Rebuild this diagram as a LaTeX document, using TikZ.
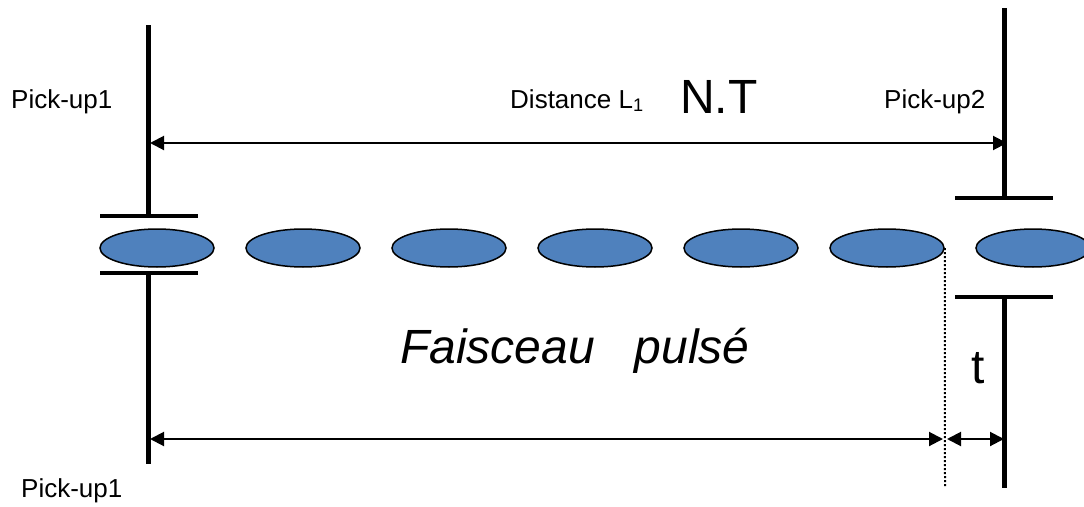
\documentclass[tikz,border=0pt]{standalone}
\usepackage{fontspec}
\setmainfont{Liberation Sans}
\usetikzlibrary{arrows.meta, positioning, shapes.geometric}
\definecolor{bunchcolor}{RGB}{79, 129, 189}

\begin{document}
\begin{tikzpicture}[x=1pt, y=-1pt,
    bunch/.style={ellipse, draw=black, line width=1.5pt, fill=bunchcolor, minimum width=114pt, minimum height=38pt, inner sep=0pt},
    electrode/.style={line width=5pt},
    plate/.style={line width=4pt},
    dim/.style={line width=2pt, {Triangle[length=14pt, width=14pt]}-{Triangle[length=14pt, width=14pt]}},
    guide/.style={line width=2pt, dash pattern=on 2pt off 2pt},
    lbl/.style={font=\fontsize{26}{30}\selectfont, inner sep=0pt, anchor=base west},
    big/.style={font=\fontsize{48}{56}\selectfont, inner sep=0pt, anchor=base west}]

\useasboundingbox (0,0) rectangle (1084,506);
\clip (0,0) rectangle (1084,506);

% beam bunches
\foreach \i in {1,...,7}
    \node[bunch] (b\i) at ({11+146*\i}, 248) {};

% pick-up 1
\coordinate (pa top) at (148,25);
\coordinate (pa up) at (148,216);
\coordinate (pa low) at (148,273);
\coordinate (pa bot) at (148,464);
\draw[electrode] (pa top) -- (pa up);
\draw[electrode] (pa low) -- (pa bot);
\draw[plate] ([xshift=-48pt]pa up) -- ([xshift=50pt]pa up);
\draw[plate] ([xshift=-48pt]pa low) -- ([xshift=50pt]pa low);

% pick-up 2
\coordinate (pb top) at (1004,8);
\coordinate (pb up) at (1004,198);
\coordinate (pb low) at (1004,297);
\coordinate (pb bot) at (1004,488);
\draw[electrode] (pb top) -- (pb up);
\draw[electrode] (pb low) -- (pb bot);
\draw[plate] ([xshift=-49pt]pb up) -- ([xshift=49pt]pb up);
\draw[plate] ([xshift=-49pt]pb low) -- ([xshift=49pt]pb low);

% distances
\coordinate (da) at (150,143);
\coordinate (db) at (1007,143);
\draw[dim] (da) -- (db);

\coordinate (dotend) at (945,486);
\draw[guide] (b6.east) -- (dotend);

\coordinate (ea) at (150,439);
\coordinate (eb) at (943,439);
\coordinate (ec) at (947,439);
\coordinate (ed) at (1004,439);
\draw[dim] (ea) -- (eb);
\draw[dim] (ec) -- (ed);

% labels
\node[lbl] (pick1) at (11,108) {Pick-up1};
\node[lbl] (dist) at (510,108) {Distance L\textsubscript{1}};
\node[big] (nt) at (680,113) {N.T};
\node[lbl] (pick2) at (884,108) {Pick-up2};
\node[big, font=\fontsize{48}{56}\selectfont\itshape] (beam) at (400,363) {Faisceau\ \ \ pulsé};
\node[big] (tlbl) at (971,383) {t};
\node[lbl] (pick1b) at (21,497) {Pick-up1};
\end{tikzpicture}
\end{document}
